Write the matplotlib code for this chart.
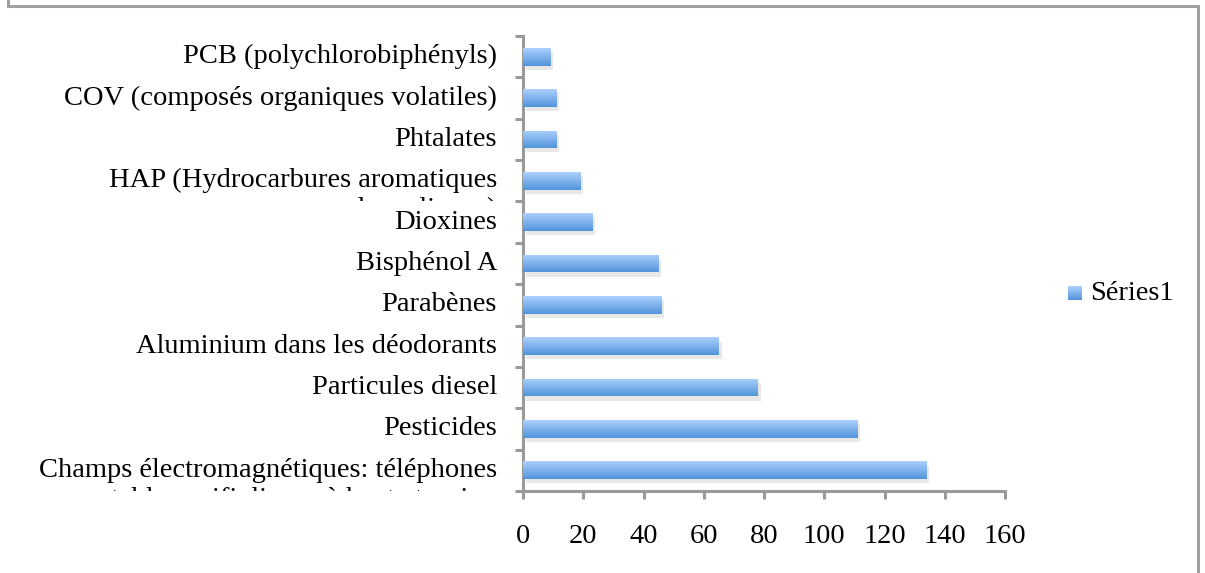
import numpy as np
import matplotlib
matplotlib.use('Agg')
import matplotlib.pyplot as plt
from matplotlib.transforms import Bbox, TransformedBbox, offset_copy
from matplotlib.lines import Line2D
import matplotlib.patheffects as pe

# bottom to top
labels_line1 = ['Champs électromagnétiques: téléphones', 'Pesticides', 'Particules diesel',
                'Aluminium dans les déodorants', 'Parabènes', 'Bisphénol A', 'Dioxines',
                'HAP (Hydrocarbures aromatiques', 'Phtalates',
                'COV (composés organiques volatiles)', 'PCB (polychlorobiphényls)']
labels_line2 = ['portables, wifi, lignes à haute tension', '', '', '', '', '', '',
                'polycycliques)', '', '', '']
values = [134, 111, 78, 65, 46, 45, 23, 19, 11, 11, 9]
xticks = [0, 20, 40, 60, 80, 100, 120, 140, 160]
series_name = 'Séries1'

plt.rcParams['font.family'] = ['Liberation Serif', 'DejaVu Serif']
fs = 20.5
gray = '#9a9a9a'

fig = plt.figure(figsize=(12.05, 5.73), dpi=100)
W, H = 1205, 573
ax = fig.add_axes([523 / W, 1 - 491 / H, (1005 - 523) / W, (491 - 36) / H])

n = len(values)
y = np.arange(n)
grad = np.linspace(1, 0, 64).reshape(-1, 1)
cmap = matplotlib.colors.LinearSegmentedColormap.from_list('bar', ['#5294da', '#acd0fd'])

bars = ax.barh(y, values, height=0.43, color='#7aaeeb', zorder=2,
               path_effects=[pe.SimplePatchShadow(offset=(2, -3), shadow_rgbFace='#999999', alpha=0.22),
                             pe.Normal()])
for b in bars:
    x0, y0 = b.get_x(), b.get_y()
    im = ax.imshow(grad, cmap=cmap, aspect='auto', zorder=3,
                   extent=[x0, x0 + b.get_width(), y0, y0 + b.get_height()])
    im.set_clip_path(b)

ax.set_xlim(0, 160)
ax.set_ylim(-0.5, n - 0.5)
ax.set_xticks(xticks)
ax.set_xticklabels([str(t) for t in xticks], fontsize=fs)
ax.set_yticks(np.arange(n + 1) - 0.5)
ax.set_yticklabels([])
for s in ['top', 'right']:
    ax.spines[s].set_visible(False)
for s in ['left', 'bottom']:
    ax.spines[s].set_color(gray)
    ax.spines[s].set_linewidth(2.2)
ax.tick_params(axis='both', direction='out', length=6, width=2.2, color=gray)
ax.tick_params(axis='x', pad=18)

# category labels, second line clipped to the category slot like the original
ytr = ax.get_yaxis_transform()
for i in range(n):
    clip = TransformedBbox(Bbox.from_extents(-1.2, i - 0.5, 0, i + 0.5), ytr)
    tr1 = offset_copy(ytr, fig=fig, x=-26, y=0, units='dots')
    ax.text(0, i, labels_line1[i], transform=tr1, ha='right', va='center',
            fontsize=fs, clip_on=False)
    if labels_line2[i]:
        tr2 = offset_copy(ytr, fig=fig, x=-26, y=-29, units='dots')
        t = ax.text(0, i, labels_line2[i], transform=tr2, ha='right', va='center',
                    fontsize=fs, clip_on=True)
        t.set_clip_box(clip)

# legend
lax = fig.add_axes([1068 / W, 1 - 300 / H, 14 / W, 14 / H])
lax.imshow(grad, cmap=cmap, aspect='auto')
lax.axis('off')
fig.text(1090 / W, 1 - 293 / H, series_name, fontsize=fs, ha='left', va='center')

# chart area frame
for xs, ys in [([8, 8], [0, 6]), ([8, 1198], [6, 6]), ([1198, 1198], [6, 573])]:
    fig.add_artist(Line2D([xs[0] / W, xs[1] / W], [1 - ys[0] / H, 1 - ys[1] / H],
                          transform=fig.transFigure, color='#a0a0a0', linewidth=2.2))

fig.savefig('out.png', dpi=100)
